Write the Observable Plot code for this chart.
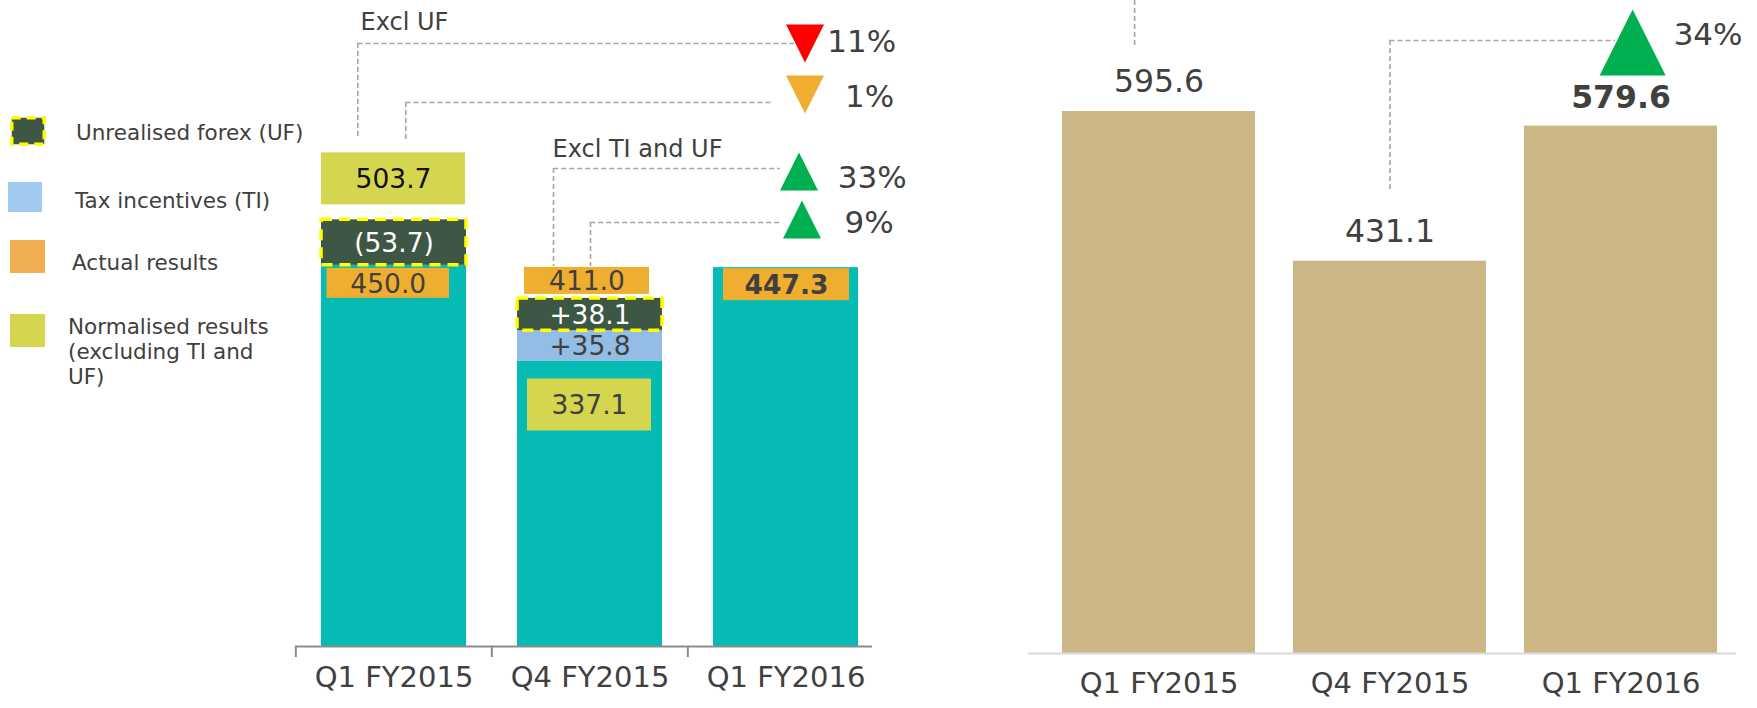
<!DOCTYPE html>
<html>
<head>
<meta charset="utf-8">
<script src="https://cdn.jsdelivr.net/npm/d3@7"></script>
<script src="https://cdn.jsdelivr.net/npm/@observablehq/plot@0.6"></script>
<style>
  html, body { margin: 0; padding: 0; background: #ffffff; }
  #wrap { position: relative; width: 1757px; height: 708px; overflow: hidden; font-family: "DejaVu Sans", Verdana, sans-serif; color: #404040; }
  #left { position: absolute; left: 0; top: 0; width: 960px; height: 708px; }
  #right { position: absolute; left: 960px; top: 0; width: 797px; height: 708px; }
  #legend { position: absolute; left: 0; top: 0; width: 300px; height: 400px; z-index: 2; }
  .sw { position: absolute; display: block; }
  .lt { position: absolute; font-size: 21.5px; line-height: 25px; white-space: normal; color: #404040; }
</style>
</head>
<body>
<div id="wrap">
  <div id="left"></div>
  <div id="right"></div>
  <div id="legend"></div>
</div>
<script>
// ---------------- data ----------------
const periods = ["Q1 FY2015", "Q4 FY2015", "Q1 FY2016"];
const actualResults = [450.0, 411.0, 447.3];
const normalisedResults = [503.7, 337.1, null];
const taxIncentives = [0, 35.8, 0];
const unrealisedForex = [-53.7, 38.1, 0];
const rightValues = [595.6, 431.1, 579.6];
const changeLabels = ["11%", "1%", "33%", "9%"];
const changeDirections = ["down", "down", "up", "up"];
const rightChangeLabels = ["34%"];
const rightChangeDirections = ["up"];
const bracketLabels = ["Excl UF", "Excl TI and UF"];
const legendLabels = ["Unrealised forex (UF)", "Tax incentives (TI)", "Actual results", "Normalised results (excluding TI and UF)"];

// ---------------- styles ----------------
const FONT = '"DejaVu Sans", Verdana, sans-serif';
const C = {
  teal: "#05BBB3", uf: "#3E5744", ufEdge: "#FFFF00", ti: "#94BDE5", orange: "#F0AE30",
  norm: "#D5D650", tan: "#CCB686", text: "#404040", dash: "#A6A6A6", axis: "#8C8C8C",
  red: "#FF0000", green: "#00B050", lgTi: "#A0CAF0", lgOrange: "#F1AF51", base: "#D9D9D9"
};
const fmt = d3.format(".1f");
const ufLabel = v => v < 0 ? `(${fmt(-v)})` : `+${fmt(v)}`;
const tiLabel = v => `+${fmt(v)}`;

const triUp = {draw(ctx, size) { const r = Math.sqrt(size / Math.PI); ctx.moveTo(0, -r); ctx.lineTo(r, r); ctx.lineTo(-r, r); ctx.closePath(); }};
const triDown = {draw(ctx, size) { const r = Math.sqrt(size / Math.PI); ctx.moveTo(0, r); ctx.lineTo(r, -r); ctx.lineTo(-r, -r); ctx.closePath(); }};
const dashStyle = {stroke: C.dash, strokeWidth: 1.6, strokeDasharray: "5,3"};

// ---------------- legend (HTML) ----------------
const legendLayout = [
  {x: 10, y: 116, w: 36, h: 30, fill: C.uf, dashed: true, tx: 76, ty: 120, tw: 260},
  {x: 8, y: 182, w: 34, h: 30, fill: C.lgTi, tx: 75, ty: 188, tw: 260},
  {x: 10, y: 240, w: 35, h: 33, fill: C.lgOrange, tx: 72, ty: 250, tw: 260},
  {x: 10, y: 314, w: 35, h: 33, fill: C.norm, tx: 68, ty: 314, tw: 215}
];
const legend = document.getElementById("legend");
legendLabels.forEach((lab, i) => {
  const L = legendLayout[i];
  const ns = "http://www.w3.org/2000/svg";
  const s = document.createElementNS(ns, "svg");
  s.setAttribute("class", "sw");
  s.setAttribute("width", L.w); s.setAttribute("height", L.h);
  s.style.left = L.x + "px"; s.style.top = L.y + "px";
  const r = document.createElementNS(ns, "rect");
  if (L.dashed) {
    r.setAttribute("x", 1.75); r.setAttribute("y", 1.75);
    r.setAttribute("width", L.w - 3.5); r.setAttribute("height", L.h - 3.5);
    r.setAttribute("stroke", C.ufEdge); r.setAttribute("stroke-width", 3.5);
    r.setAttribute("stroke-dasharray", "9,6");
  } else {
    r.setAttribute("width", L.w); r.setAttribute("height", L.h);
  }
  r.setAttribute("fill", L.fill);
  s.appendChild(r);
  legend.appendChild(s);
  const t = document.createElement("div");
  t.className = "lt";
  t.style.left = L.tx + "px"; t.style.top = L.ty + "px"; t.style.width = L.tw + "px";
  t.textContent = lab;
  legend.appendChild(t);
});

// ---------------- left chart ----------------
const LP = {width: 960, height: 708, marginLeft: 295, marginRight: 76, marginTop: 0, marginBottom: 62, yMax: 762.7, pIn: 0.26, pOut: 0.13};
const stepL = (LP.width - LP.marginLeft - LP.marginRight) / (3 - LP.pIn + 2 * LP.pOut);
const BWL = stepL * (1 - LP.pIn);

const leftSegments = [];
periods.forEach((p, i) => {
  const a = actualResults[i], n = normalisedResults[i], ti = taxIncentives[i], uf = unrealisedForex[i];
  if (n != null && uf < 0) {
    leftSegments.push({p, kind: "base", y1: 0, y2: a});
    leftSegments.push({p, kind: "uf", y1: a, y2: a - uf, v: uf});
  } else if (n != null) {
    leftSegments.push({p, kind: "base", y1: 0, y2: n});
    leftSegments.push({p, kind: "ti", y1: n, y2: n + ti, v: ti});
    leftSegments.push({p, kind: "uf", y1: n + ti, y2: n + ti + uf, v: uf});
  } else {
    leftSegments.push({p, kind: "base", y1: 0, y2: a});
  }
});

// value boxes: offsets (px) relative to the value's position
const boxes = [
  {i: 0, v: normalisedResults[0], fill: C.norm, color: "#111111", top: -67, bottom: -15, left: 0, right: 1, weight: "normal"},
  {i: 0, v: actualResults[0], fill: C.orange, color: C.text, top: 3, bottom: 33, left: 5.5, right: 17, weight: "normal"},
  {i: 1, v: actualResults[1], fill: C.orange, color: C.text, top: -31, bottom: -4, left: 7, right: 13, weight: "normal"},
  {i: 1, v: normalisedResults[1], fill: C.norm, color: C.text, top: 18, bottom: 70, left: 10, right: 11, weight: "normal"},
  {i: 2, v: actualResults[2], fill: C.orange, color: C.text, top: 1, bottom: 33, left: 10, right: 9, weight: "bold"}
];

const leftConn = [
  {k: 0, from: 0, anchor: normalisedResults[0], vdx: -36.2, gap: 83, level: 711.9, endInset: 64, tri: 711.9, triDx: 19, pctDx: 75.7, pctDy: -1.6, color: C.red},
  {k: 1, from: 0, anchor: normalisedResults[0], vdx: 11.8, gap: 80, level: 642.3, endInset: 86, tri: 651.7, triDx: 19, pctDx: 83.7, pctDy: 2.4, color: C.orange},
  {k: 2, from: 1, anchor: actualResults[1], vdx: -36.5, gap: 32, level: 564.3, endInset: 78, tri: 560.8, triDx: 13, pctDx: 86.2, pctDy: 6.4, color: C.green},
  {k: 3, from: 1, anchor: actualResults[1], vdx: 0.5, gap: 32, level: 500.6, endInset: 78, tri: 504.1, triDx: 16, pctDx: 83.2, pctDy: 3.4, color: C.green}
];
const brackets = [
  {conn: 0, text: bracketLabels[0], dx: -33.5, dy: -21.4},
  {conn: 2, text: bracketLabels[1], dx: -37.5, dy: -19}
];

const leftMarks = [
  Plot.barY(leftSegments.filter(d => d.kind === "base"), {x: "p", y1: "y1", y2: "y2", fill: C.teal}),
  Plot.barY(leftSegments.filter(d => d.kind === "ti"), {x: "p", y1: "y1", y2: "y2", fill: C.ti}),
  Plot.barY(leftSegments.filter(d => d.kind === "uf"), {x: "p", y1: "y1", y2: "y2", fill: C.uf, stroke: C.ufEdge, strokeWidth: 3.5, strokeDasharray: "11,7"}),
  Plot.text(leftSegments.filter(d => d.kind === "uf"), {x: "p", y: d => (d.y1 + d.y2) / 2, text: d => ufLabel(d.v), fill: "#ffffff", fontSize: 26.5, dy: 1}),
  Plot.text(leftSegments.filter(d => d.kind === "ti"), {x: "p", y: d => (d.y1 + d.y2) / 2, text: d => tiLabel(d.v), fill: C.text, fontSize: 26.5, dy: 1}),
  // axis line and ticks
  Plot.ruleY([0], {stroke: C.axis, strokeWidth: 2, insetRight: 12}),
  Plot.ruleX(periods, {x: d => d, y1: 0, y2: 0, dx: -stepL / 2, insetBottom: -11, stroke: C.axis, strokeWidth: 2}),
  Plot.text(periods, {x: d => d, text: d => d, frameAnchor: "bottom", dy: 40.4, fontSize: 29, fill: C.text})
];
boxes.forEach(b => {
  leftMarks.push(Plot.barY([b], {x: () => periods[b.i], y1: () => b.v, y2: () => b.v, insetTop: b.top, insetBottom: -b.bottom, insetLeft: b.left, insetRight: b.right, fill: b.fill}));
  leftMarks.push(Plot.text([b], {x: () => periods[b.i], y: () => b.v, text: () => fmt(b.v), dy: (b.top + b.bottom) / 2 + 1, dx: (b.left - b.right) / 2, fill: b.color, fontSize: 26.5, fontWeight: b.weight}));
});
leftConn.forEach(c => {
  leftMarks.push(Plot.ruleX([c], {x: () => periods[c.from], y1: () => c.level, y2: () => c.anchor, dx: c.vdx, insetBottom: c.gap, ...dashStyle}));
  leftMarks.push(Plot.ruleY([c], {y: () => c.level, x1: () => periods[c.from], x2: () => periods[2], insetLeft: BWL / 2 + c.vdx, insetRight: c.endInset, ...dashStyle}));
  leftMarks.push(Plot.dot([c], {x: () => periods[2], y: () => c.tri, r: 19, symbol: changeDirections[c.k] === "up" ? triUp : triDown, fill: c.color, stroke: "none", dx: c.triDx}));
  leftMarks.push(Plot.text([c], {x: () => periods[2], y: () => c.tri, text: () => changeLabels[c.k], dx: c.pctDx, dy: c.pctDy, fontSize: 31, fill: C.text}));
});
brackets.forEach(b => {
  const c = leftConn[b.conn];
  leftMarks.push(Plot.text([b], {x: () => periods[c.from], y: () => c.level, text: () => b.text, textAnchor: "start", dx: c.vdx + 3 + (b.dx - c.vdx - 3), dy: b.dy, fontSize: 24, fill: C.text}));
});

const leftPlot = Plot.plot({
  width: LP.width, height: LP.height,
  marginLeft: LP.marginLeft, marginRight: LP.marginRight, marginTop: LP.marginTop, marginBottom: LP.marginBottom,
  x: {type: "band", domain: periods, paddingInner: LP.pIn, paddingOuter: LP.pOut, axis: null},
  y: {domain: [0, LP.yMax], axis: null},
  style: {background: "transparent", fontFamily: FONT, fontSize: "26.5px", color: C.text, overflow: "visible"},
  marks: leftMarks
});
document.getElementById("left").appendChild(leftPlot);

// ---------------- right chart ----------------
const RP = {width: 797, height: 708, marginLeft: 72, marginRight: 11, marginTop: 0, marginBottom: 55, yMax: 717.6, pIn: 0.166, pOut: 0.125};
const stepR = (RP.width - RP.marginLeft - RP.marginRight) / (3 - RP.pIn + 2 * RP.pOut);
const BWR = stepR * (1 - RP.pIn);

const rightConn = [
  {from: 0, anchor: rightValues[0], vdx: -24.4, gap: 66, top: RP.yMax},
  {from: 1, anchor: rightValues[1], vdx: 0, gap: 68.7, top: 673.6, level: 673.6, endInset: 102, tri: 671.4, triDx: 11.6, pctDx: 87.1, pctLevel: 679.1, color: C.green, k: 0}
];

const rightMarks = [
  Plot.barY(rightValues, {x: (d, i) => periods[i], y: d => d, fill: C.tan}),
  Plot.ruleY([0], {stroke: C.base, strokeWidth: 2, insetLeft: -4, insetRight: 10}),
  Plot.text(rightValues, {filter: (d, i) => i < 2, x: (d, i) => periods[i], y: d => d, text: d => fmt(d), dy: -29.5, fontSize: 31.5, fill: C.text}),
  Plot.text(rightValues, {filter: (d, i) => i === 2, x: (d, i) => periods[i], y: d => d, text: d => fmt(d), dy: -28.6, fontSize: 31.5, fontWeight: "bold", fill: C.text}),
  Plot.text(periods, {x: d => d, text: d => d, frameAnchor: "bottom", dy: 39.9, fontSize: 29, fill: C.text})
];
rightConn.forEach(c => {
  rightMarks.push(Plot.ruleX([c], {x: () => periods[c.from], y1: () => c.top, y2: () => c.anchor, dx: c.vdx, insetBottom: c.gap, ...dashStyle}));
  if (c.level != null) {
    rightMarks.push(Plot.ruleY([c], {y: () => c.level, x1: () => periods[c.from], x2: () => periods[2], insetLeft: BWR / 2 + c.vdx, insetRight: c.endInset, ...dashStyle}));
    rightMarks.push(Plot.dot([c], {x: () => periods[2], y: () => c.tri, r: 33, symbol: rightChangeDirections[c.k] === "up" ? triUp : triDown, fill: c.color, stroke: "none", dx: c.triDx}));
    rightMarks.push(Plot.text([c], {x: () => periods[2], y: () => c.pctLevel, text: () => rightChangeLabels[c.k], dx: c.pctDx, fontSize: 31, fill: C.text}));
  }
});

const rightPlot = Plot.plot({
  width: RP.width, height: RP.height,
  marginLeft: RP.marginLeft, marginRight: RP.marginRight, marginTop: RP.marginTop, marginBottom: RP.marginBottom,
  x: {type: "band", domain: periods, paddingInner: RP.pIn, paddingOuter: RP.pOut, axis: null},
  y: {domain: [0, RP.yMax], axis: null},
  style: {background: "transparent", fontFamily: FONT, fontSize: "26.5px", color: C.text, overflow: "visible"},
  marks: rightMarks
});
document.getElementById("right").appendChild(rightPlot);
</script>
</body>
</html>
